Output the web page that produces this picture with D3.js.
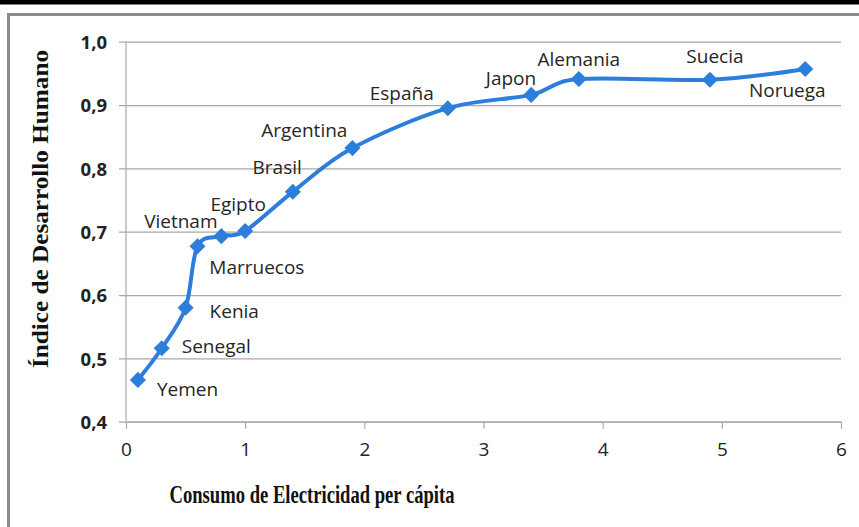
<!DOCTYPE html>
<html>
<head>
<meta charset="utf-8">
<script src="https://cdn.jsdelivr.net/npm/d3@7"></script>
<style>
  html, body { margin: 0; padding: 0; background: #fff; overflow: hidden; }
  svg { display: block; }
</style>
</head>
<body>
<svg id="chart" width="859" height="527"></svg>
<script>
// Country, electricity consumption per capita, human development index
const countries = ["Yemen", "Senegal", "Kenia", "Vietnam", "Marruecos", "Egipto", "Brasil",
                   "Argentina", "España", "Japon", "Alemania", "Suecia", "Noruega"];
const consumo = [0.1, 0.3, 0.5, 0.6, 0.8, 1.0, 1.4, 1.9, 2.7, 3.4, 3.8, 4.9, 5.7];
const idh = [0.466, 0.516, 0.580, 0.677, 0.693, 0.701, 0.763, 0.832, 0.895, 0.916, 0.941, 0.940, 0.957];

const xTicks = [0, 1, 2, 3, 4, 5, 6];
const yTicks = [0.4, 0.5, 0.6, 0.7, 0.8, 0.9, 1.0];

const xTitle = "Consumo de Electricidad per cápita";
const yTitle = "Índice de Desarrollo Humano";

// Where each country name sits relative to its marker
const labelPlacement = {
  "Yemen":     { dx: 19,  dy: 9,   anchor: "start" },
  "Senegal":   { dx: 20,  dy: -2,  anchor: "start" },
  "Kenia":     { dx: 24,  dy: 3,   anchor: "start" },
  "Vietnam":   { dx: 20,  dy: -25, anchor: "end" },
  "Marruecos": { dx: -12, dy: 31,  anchor: "start" },
  "Egipto":    { dx: -7,  dy: -27, anchor: "middle" },
  "Brasil":    { dx: 9,   dy: -25, anchor: "end" },
  "Argentina": { dx: -5,  dy: -18, anchor: "end" },
  "España":    { dx: -14, dy: -15, anchor: "end" },
  "Japon":     { dx: 5,   dy: -17, anchor: "end" },
  "Alemania":  { dx: 0,   dy: -20, anchor: "middle" },
  "Suecia":    { dx: 5,   dy: -24, anchor: "middle" },
  "Noruega":   { dx: -18, dy: 21,  anchor: "middle" }
};

const points = countries.map((c, i) => ({ name: c, x: consumo[i], y: idh[i] }));

const svg = d3.select("#chart");
const W = 859, H = 527;
const plot = { left: 126, right: 841, top: 41.7, bottom: 421.7 };

const x = d3.scaleLinear().domain([0, 6]).range([plot.left, plot.right]);
const y = d3.scaleLinear().domain([0.4, 1.0]).range([plot.bottom, plot.top]);

const blue = "#2d7edc";
const grid = "#a8a8a8";

// Page frame: black rule on top, grey border box
svg.append("rect").attr("x", 0).attr("y", 0).attr("width", W).attr("height", 4.5).attr("fill", "#000");
svg.append("line").attr("x1", 7).attr("x2", W).attr("y1", 14.5).attr("y2", 14.5)
  .attr("stroke", "#8c8c8c").attr("stroke-width", 3);
svg.append("line").attr("x1", 8.5).attr("x2", 8.5).attr("y1", 13).attr("y2", H)
  .attr("stroke", "#8c8c8c").attr("stroke-width", 3);

// Horizontal gridlines with y axis ticks and labels
const yAxis = d3.axisLeft(y).tickValues(yTicks)
  .tickSize(-(plot.right - plot.left)).tickSizeOuter(0).tickPadding(12)
  .tickFormat(d => d3.format(".1f")(d).replace(".", ","));
const gy = svg.append("g").attr("transform", `translate(${plot.left},0)`).call(yAxis);
gy.select(".domain").remove();
gy.selectAll(".tick line").attr("stroke", grid).attr("stroke-width", 1.2).attr("x1", -7);
gy.selectAll(".tick text")
  .attr("font-family", "'Open Sans', sans-serif").attr("font-weight", "bold")
  .attr("font-size", 18.5).attr("fill", "#222").attr("x", -19).attr("dy", "0.36em");

// X axis with ticks pointing down
const xAxis = d3.axisBottom(x).tickValues(xTicks).tickSize(7).tickSizeOuter(0).tickPadding(14)
  .tickFormat(d3.format("d"));
const gx = svg.append("g").attr("transform", `translate(0,${plot.bottom})`).call(xAxis);
gx.select(".domain").attr("stroke", grid).attr("stroke-width", 1.2);
gx.selectAll(".tick line").attr("stroke", grid).attr("stroke-width", 1.2);
gx.selectAll(".tick text")
  .attr("font-family", "'Open Sans', sans-serif").attr("font-size", 19)
  .attr("fill", "#222").attr("dy", "0.71em");

// Vertical axis line
svg.append("line").attr("x1", x(0)).attr("x2", x(0)).attr("y1", y(1.0)).attr("y2", plot.bottom)
  .attr("stroke", grid).attr("stroke-width", 1.2);

// Smoothed series line (uniform Catmull-Rom spline through the points)
const line = d3.line().x(d => x(d.x)).y(d => y(d.y)).curve(d3.curveCardinal.tension(0));
svg.append("path").datum(points).attr("d", line)
  .attr("fill", "none").attr("stroke", blue).attr("stroke-width", 4).attr("stroke-linejoin", "round");

// Diamond markers
const diamond = d3.symbol().type(d3.symbolDiamond2).size(165);
svg.append("g").selectAll("path").data(points).join("path")
  .attr("d", diamond)
  .attr("transform", d => `translate(${x(d.x)},${y(d.y)})`)
  .attr("fill", blue);

// Country labels
svg.append("g").selectAll("text").data(points).join("text")
  .attr("x", d => x(d.x) + labelPlacement[d.name].dx)
  .attr("y", d => y(d.y) + labelPlacement[d.name].dy)
  .attr("dy", "0.36em")
  .attr("text-anchor", d => labelPlacement[d.name].anchor)
  .attr("font-family", "'Open Sans', sans-serif").attr("font-size", 19)
  .attr("fill", "#262626")
  .text(d => d.name);

// Axis titles
svg.append("text").attr("x", 312).attr("y", 503).attr("text-anchor", "middle")
  .attr("font-family", "'Liberation Serif', 'Times New Roman', serif").attr("font-weight", "bold")
  .attr("font-size", 25).attr("fill", "#111")
  .attr("textLength", 285).attr("lengthAdjust", "spacingAndGlyphs")
  .text(xTitle);

svg.append("text").attr("transform", "translate(48,209) rotate(-90)").attr("text-anchor", "middle")
  .attr("font-family", "'Liberation Serif', 'Times New Roman', serif").attr("font-weight", "bold")
  .attr("font-size", 24).attr("fill", "#111")
  .attr("textLength", 318).attr("lengthAdjust", "spacingAndGlyphs")
  .text(yTitle);
</script>
</body>
</html>
